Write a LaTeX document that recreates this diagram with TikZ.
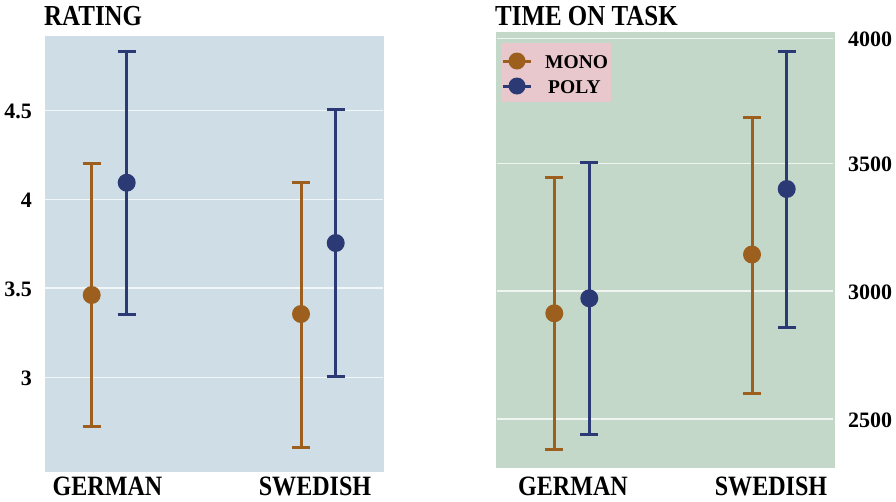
\documentclass[tikz,border=0pt]{standalone}
\usepackage{fontspec}
\setmainfont{Liberation Serif}
\newfontfamily\headfont[FakeStretch=0.86]{Liberation Serif}
\begin{document}
\definecolor{monoc}{RGB}{156,95,30}
\definecolor{polyc}{RGB}{43,58,117}
\definecolor{ratingbg}{RGB}{207,222,230}
\definecolor{timebg}{RGB}{196,216,202}
\definecolor{legbg}{RGB}{232,200,205}
\tikzset{
  grid line/.style={draw=white, opacity=0.75, line width=1.5pt},
  bar line/.style={line width=3pt},
  title text/.style={font=\headfont\bfseries\fontsize{29}{29}\selectfont, inner sep=0pt, anchor=base west},
  group text/.style={font=\headfont\bfseries\fontsize{28}{28}\selectfont, inner sep=0pt, text depth=0pt, anchor=base},
  tick text/.style={font=\bfseries\fontsize{22}{22}\selectfont, inner sep=0pt},
  legend text/.style={font=\bfseries\fontsize{19.5}{19.5}\selectfont, inner sep=0pt, anchor=base west},
}
% error bar: x, upper whisker, mean, lower whisker, colour
\newcommand\errbar[5]{%
  \draw[bar line, #5] (#1,#2) -- (#1,#4);
  \draw[bar line, #5] (#1-9,#2) -- (#1+9,#2);
  \draw[bar line, #5] (#1-9,#4) -- (#1+9,#4);
  \fill[#5] (#1,#3) circle (9);
}
\begin{tikzpicture}[x=1pt, y=-1pt]
\useasboundingbox (0,0) rectangle (896,501);

% ---------- rating panel ----------
\fill[ratingbg] (45,36) rectangle (384,472);
\foreach \gy/\lab in {110.5/4.5, 199.5/4, 288/3.5, 377.5/3}{
  \draw[grid line] (45,\gy) -- (383,\gy);
  \node[tick text, anchor=base east] at (32,\gy+8) {\lab};
}
\node[title text] (ratingtitle) at (44,25) {RATING};
\errbar{91.7}{163.3}{295}{426}{monoc}
\errbar{126.7}{51}{182.7}{314}{polyc}
\errbar{301}{182.7}{314}{447.3}{monoc}
\errbar{335.7}{109}{243}{376}{polyc}
\node[group text] (rgerman) at (107.5,495) {GERMAN};
\node[group text] (rswedish) at (315,495) {SWEDISH};

% ---------- time on task panel ----------
\fill[timebg] (496,32) rectangle (835,468);
\foreach \gy/\lab in {38.5/4000, 163.3/3500, 291/3000, 419/2500}{
  \draw[grid line] (497,\gy) -- (833,\gy);
  \node[tick text, anchor=base west] at (848,\gy+8) {\lab};
}
\node[title text] (timetitle) at (495,25) {TIME ON TASK};
\errbar{554.3}{177.3}{313.3}{449.3}{monoc}
\errbar{589.3}{162}{298.3}{434}{polyc}
\errbar{752}{117.3}{254.5}{393.3}{monoc}
\errbar{786.7}{51.7}{189}{327.7}{polyc}
\node[group text] (tgerman) at (573,495) {GERMAN};
\node[group text] (tswedish) at (771,495) {SWEDISH};

% legend
\fill[legbg] (500.5,42.5) rectangle (610.5,101.5);
\draw[bar line, monoc] (503,61) -- (531,61);
\fill[monoc] (517,61) circle (8.5);
\draw[bar line, polyc] (503,86) -- (531,86);
\fill[polyc] (517,86) circle (8.5);
\node[legend text] (legmono) at (545,68) {MONO};
\node[legend text] (legpoly) at (548,93) {POLY};
\end{tikzpicture}
\end{document}
